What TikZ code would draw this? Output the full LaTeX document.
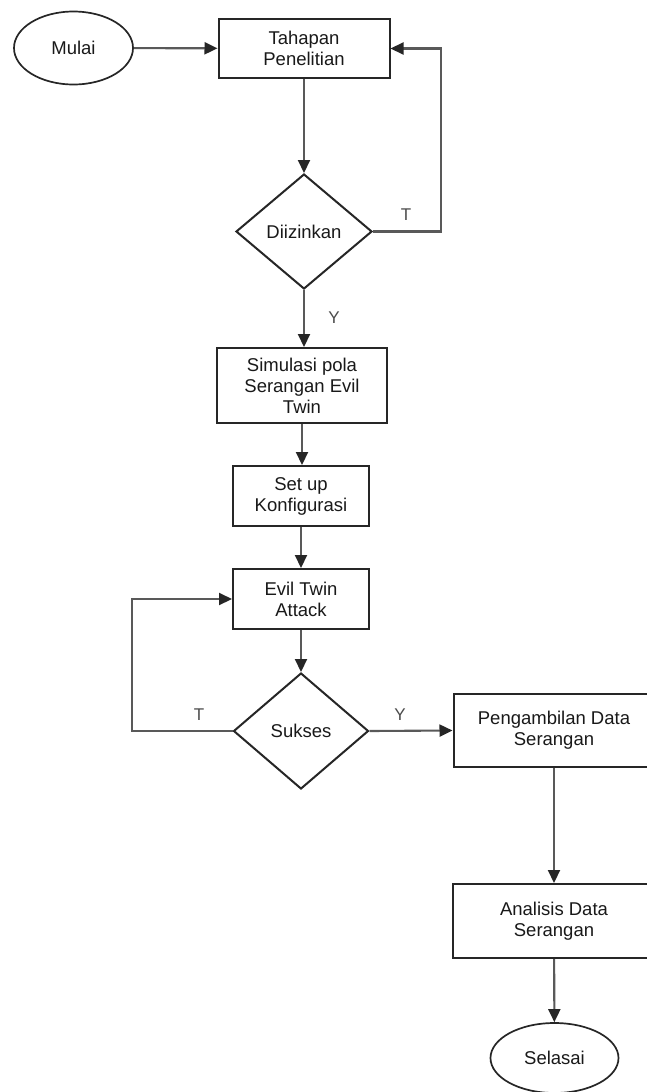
\documentclass[tikz,border=0pt]{standalone}
\usepackage{fontspec}
\setmainfont{Liberation Sans}
\usetikzlibrary{shapes.geometric,arrows.meta}
\begin{document}
\begin{tikzpicture}[x=1pt,y=-1pt,
  every node/.style={font=\fontsize{18.5}{21}\selectfont, text=black!90, align=center, inner sep=0pt},
  box/.style={draw=black!85, line width=2pt, rectangle, fill=white},
  term/.style={draw=black!85, line width=1.7pt, ellipse, fill=white},
  dec/.style={draw=black!85, line width=2pt, diamond, fill=white},
  flow/.style={draw=black!65, line width=2.1pt, -{Triangle[length=13pt,width=12pt,color=black!85,fill=black!85]}},
  lbl/.style={font=\fontsize{17}{20}\selectfont, text=black!70}
]
\useasboundingbox[fill=white] (0,0) rectangle (646,1092);

\node[term, minimum width=119pt, minimum height=73pt] (mulai) at (73.5,48) {Mulai};
\node[box, minimum width=171pt, minimum height=59pt] (tahapan) at (304,48.5) {Tahapan\\Penelitian};
\node[dec, minimum width=136pt, minimum height=115pt] (izin) at (304,231.5) {Diizinkan};
\node[box, minimum width=170pt, minimum height=75pt] (simulasi) at (302,385.5) {Simulasi pola\\Serangan Evil\\Twin};
\node[box, minimum width=136pt, minimum height=60pt] (setup) at (301,496) {Set up\\Konfigurasi};
\node[box, minimum width=136pt, minimum height=60pt] (evil) at (301,599) {Evil Twin\\Attack};
\node[dec, minimum width=135pt, minimum height=116pt] (sukses) at (301,731) {Sukses};
\node[box, minimum width=201pt, minimum height=73pt] (ambil) at (554,730.5) {Pengambilan Data\\Serangan};
\node[box, minimum width=203pt, minimum height=74pt] (analisis) at (554,921) {Analisis Data\\Serangan};
\node[term, minimum width=128pt, minimum height=70pt] (selesai) at (554.5,1058) {Selasai};

\coordinate (r1) at (441,231.5);
\coordinate (r2) at (441,48.5);
\coordinate (l1) at (132,731);
\coordinate (l2) at (132,599);

\draw[flow] (mulai) -- (tahapan);
\draw[flow] (tahapan) -- (tahapan.south |- izin.north);
\draw[flow] (izin.east) -- (r1) -- (r2) -- (tahapan.east);
\draw[flow] (izin.south) -- (izin.south |- simulasi.north);
\draw[flow] (simulasi.south) -- (simulasi.south |- setup.north);
\draw[flow] (setup) -- (evil);
\draw[flow] (evil) -- (sukses);
\draw[flow] (sukses.west) -- (l1) -- (l2) -- (evil.west);
\draw[flow] (sukses.east) -- (ambil.west);
\draw[flow] (ambil) -- (analisis);
\draw[flow] (analisis) -- (selesai);

\node[lbl] (tlbl1) at (406,215) {T};
\node[lbl] (ylbl1) at (334,318) {Y};
\node[lbl] (tlbl2) at (199,715) {T};
\node[lbl] (ylbl2) at (400,715) {Y};
\end{tikzpicture}
\end{document}
